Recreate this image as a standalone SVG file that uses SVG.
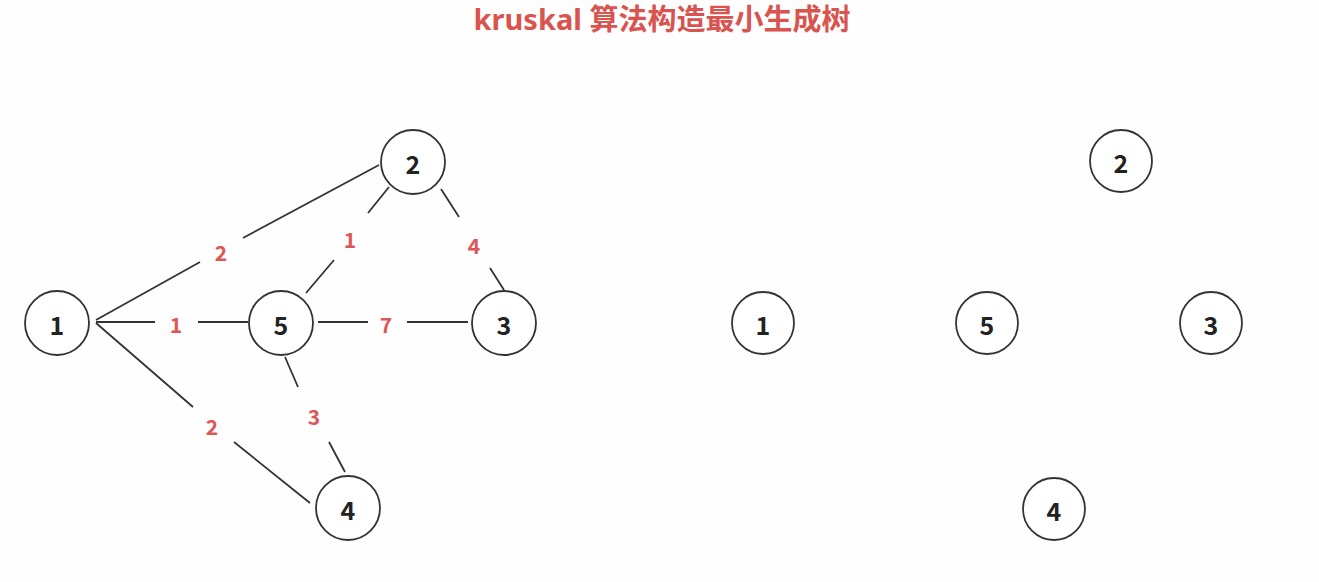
<svg xmlns="http://www.w3.org/2000/svg" width="1319" height="582" viewBox="0 0 1319 582">
<style>
.node circle{fill:#fff;stroke:#333;stroke-width:1.8}
.node text{font-family:"Noto Sans CJK SC","Noto Sans",sans-serif;font-weight:700;font-size:25px;fill:#222;text-anchor:middle;dominant-baseline:central}
.edges path{stroke:#333;stroke-width:1.8;fill:none}
.lbl{font-family:"Noto Sans CJK SC","Noto Sans",sans-serif;font-weight:700;font-size:21px;fill:#dc5656;text-anchor:middle;dominant-baseline:central}
.title{font-family:"Noto Sans","Noto Sans CJK SC",sans-serif;font-weight:700;font-size:29px;fill:#d9534f;text-anchor:middle}
</style>
<rect width="1319" height="582" fill="#fefefe"/>
<text class="title" x="662" y="30">kruskal 算法构造最小生成树</text>
<g class="edges" id="connectors">
<path d="M96 320 L200 262 M243 238 L379 165"/>
<path d="M96 322 L155 322 M198 322 L248 322"/>
<path d="M96 323 L193 407 M234 442 L310 503"/>
<path d="M306 293 L334 260 M368 213 L389 187"/>
<path d="M441 189 L459 217 M490 268 L504 290"/>
<path d="M318 322 L368 322 M407 322 L468 322"/>
<path d="M285 357 L298 387 M329 442 L345 472"/>
<text class="lbl" x="221" y="252">2</text>
<text class="lbl" x="176" y="324">1</text>
<text class="lbl" x="212" y="426">2</text>
<text class="lbl" x="350" y="239">1</text>
<text class="lbl" x="474" y="245">4</text>
<text class="lbl" x="386" y="324">7</text>
<text class="lbl" x="314" y="416">3</text>
</g>
<g class="node" id="L1"><circle cx="57" cy="323" r="32"/><text x="57" y="324">1</text></g>
<g class="node" id="L2"><circle cx="413" cy="162" r="32"/><text x="413" y="163">2</text></g>
<g class="node" id="L3"><circle cx="504" cy="323" r="32"/><text x="504" y="324">3</text></g>
<g class="node" id="L4"><circle cx="348" cy="508" r="32"/><text x="348" y="509">4</text></g>
<g class="node" id="L5"><circle cx="281" cy="323" r="32"/><text x="281" y="324">5</text></g>
<g class="node" id="R1"><circle cx="763" cy="323" r="31"/><text x="763" y="324" font-size="23">1</text></g>
<g class="node" id="R2"><circle cx="1121" cy="161" r="31"/><text x="1121" y="162" font-size="23">2</text></g>
<g class="node" id="R3"><circle cx="1211" cy="323" r="31"/><text x="1211" y="324" font-size="23">3</text></g>
<g class="node" id="R4"><circle cx="1054" cy="509" r="31"/><text x="1054" y="510" font-size="23">4</text></g>
<g class="node" id="R5"><circle cx="987" cy="323" r="31"/><text x="987" y="324" font-size="23">5</text></g>
</svg>
